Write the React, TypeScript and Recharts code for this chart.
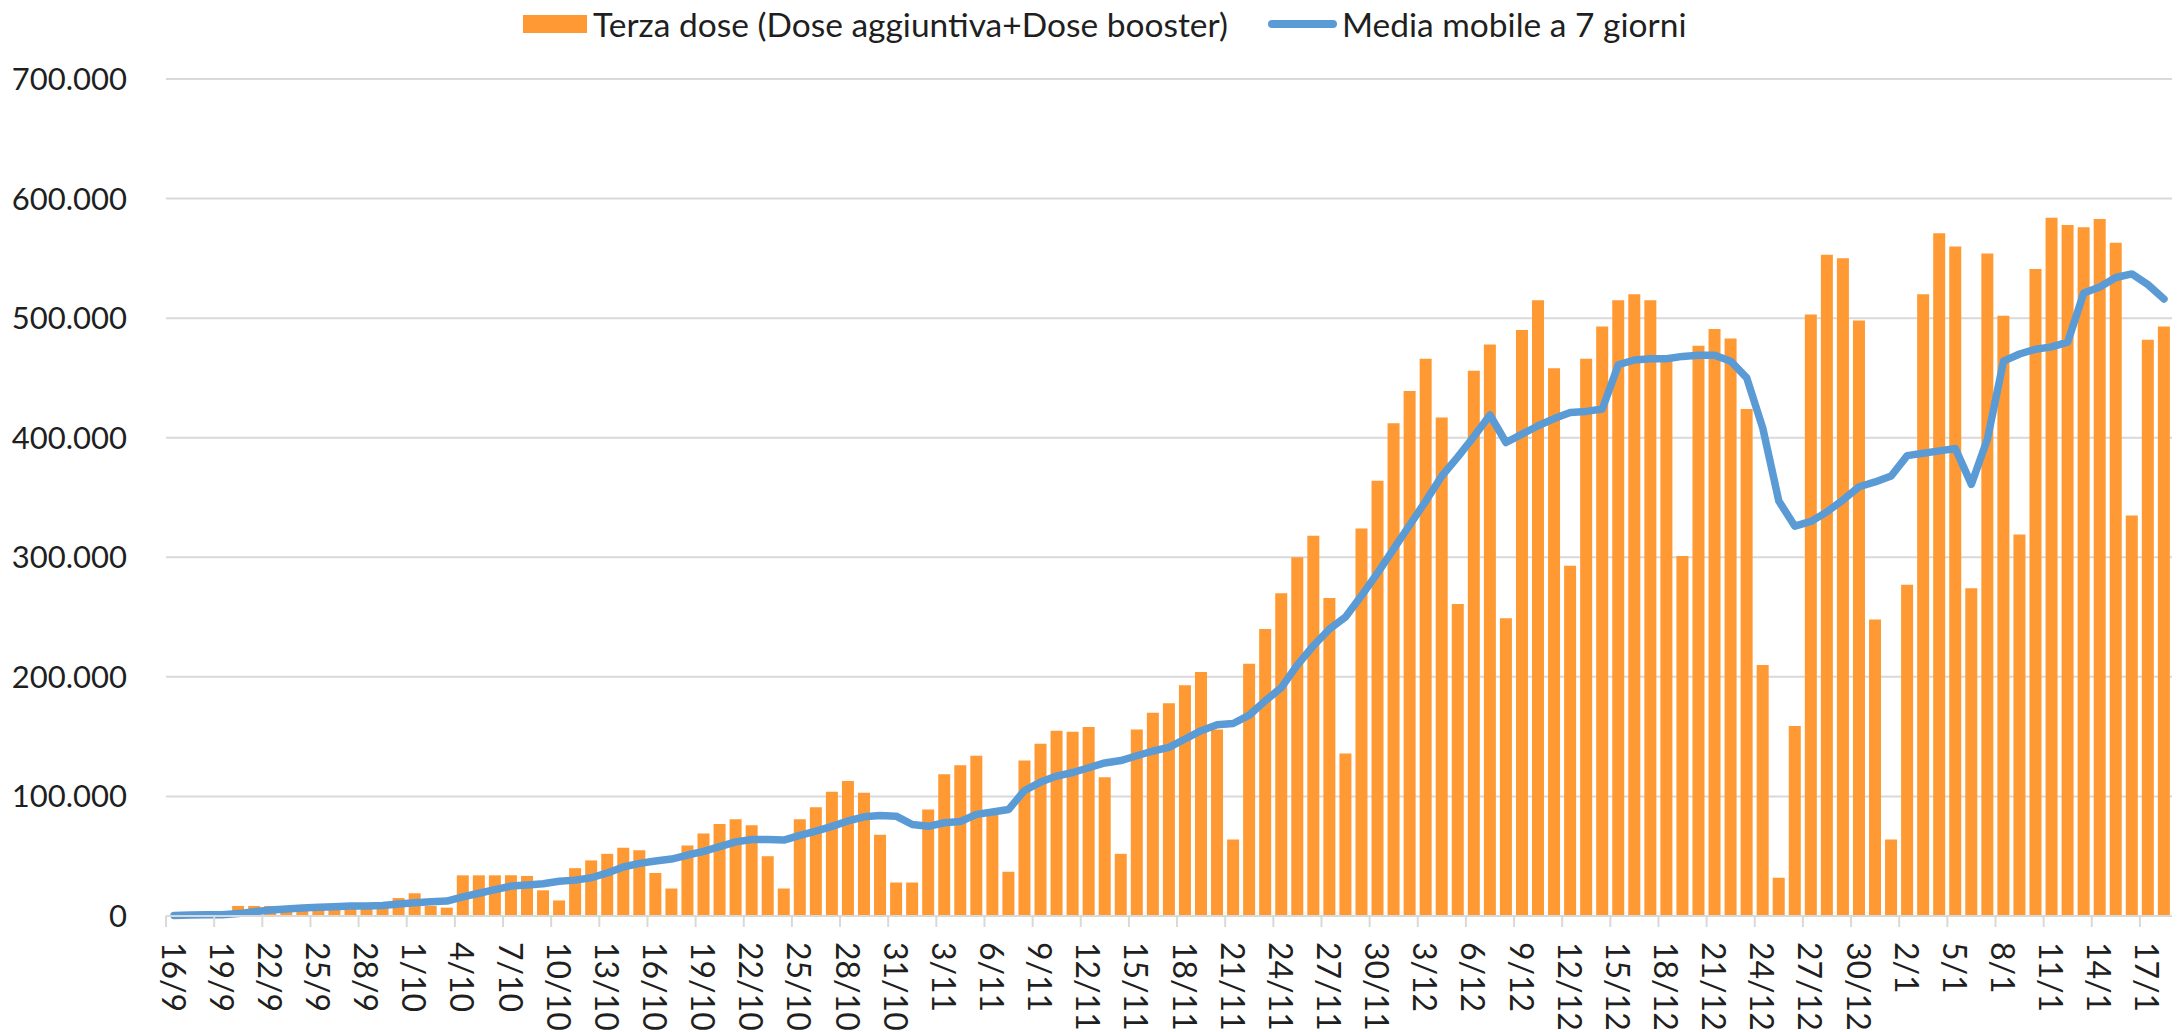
import { ComposedChart, Bar, Line, XAxis, YAxis, CartesianGrid } from "recharts";

const giorni = [
  "16/9", "17/9", "18/9", "19/9", "20/9", "21/9", "22/9", "23/9", "24/9", "25/9",
  "26/9", "27/9", "28/9", "29/9", "30/9", "1/10", "2/10", "3/10", "4/10", "5/10",
  "6/10", "7/10", "8/10", "9/10", "10/10", "11/10", "12/10", "13/10", "14/10", "15/10",
  "16/10", "17/10", "18/10", "19/10", "20/10", "21/10", "22/10", "23/10", "24/10", "25/10",
  "26/10", "27/10", "28/10", "29/10", "30/10", "31/10", "1/11", "2/11", "3/11", "4/11",
  "5/11", "6/11", "7/11", "8/11", "9/11", "10/11", "11/11", "12/11", "13/11", "14/11",
  "15/11", "16/11", "17/11", "18/11", "19/11", "20/11", "21/11", "22/11", "23/11", "24/11",
  "25/11", "26/11", "27/11", "28/11", "29/11", "30/11", "1/12", "2/12", "3/12", "4/12",
  "5/12", "6/12", "7/12", "8/12", "9/12", "10/12", "11/12", "12/12", "13/12", "14/12",
  "15/12", "16/12", "17/12", "18/12", "19/12", "20/12", "21/12", "22/12", "23/12", "24/12",
  "25/12", "26/12", "27/12", "28/12", "29/12", "30/12", "31/12", "1/1", "2/1", "3/1",
  "4/1", "5/1", "6/1", "7/1", "8/1", "9/1", "10/1", "11/1", "12/1", "13/1",
  "14/1", "15/1", "16/1", "17/1", "18/1",
];

// somministrazioni giornaliere terza dose
const terzaDose = [
  0, 0, 0, 0, 8400, 8400, 8400, 8000, 8000, 8000,
  8000, 8000, 8000, 8000, 15000, 19000, 8400, 7000, 34000, 34000,
  34000, 34000, 33500, 21500, 13000, 40000, 46500, 52000, 57000, 55000,
  36000, 23000, 59000, 69000, 77000, 81000, 76000, 50000, 23000, 81000,
  91000, 104000, 113000, 103000, 68000, 28000, 28000, 89000, 118500, 126000,
  134000, 89000, 37000, 130000, 144000, 155000, 154000, 158000, 116000, 52000,
  156000, 170000, 178000, 193000, 204000, 156000, 64000, 211000, 240000, 270000,
  300000, 318000, 266000, 136000, 324000, 364000, 412000, 439000, 466000, 417000,
  261000, 456000, 478000, 249000, 490000, 515000, 458000, 293000, 466000, 493000,
  515000, 520000, 515000, 466000, 301000, 477000, 491000, 483000, 424000, 210000,
  32000, 159000, 503000, 553000, 550000, 498000, 248000, 64000, 277000, 520000,
  571000, 560000, 274000, 554000, 502000, 319000, 541000, 584000, 578000, 576000,
  583000, 563000, 335000, 482000, 493000,
];

const mediaMobile = [
  500, 800, 1000, 1000, 2000, 3600, 5000, 5900, 6700, 7300,
  7800, 8400, 8400, 8700, 10000, 11000, 12000, 12500, 16000, 19000,
  22000, 25000, 26000, 27000, 29000, 30000, 32000, 36000, 41000, 44000,
  46000, 47600, 51000, 54000, 58000, 62000, 64000, 64000, 63500, 67500,
  71000, 75000, 79500, 83000, 84000, 83500, 76500, 75000, 78000, 79000,
  85000, 87000, 89000, 105000, 112000, 117000, 120000, 124000, 128000, 130000,
  134000, 138000, 141000, 148000, 155000, 160000, 161000, 168000, 180000, 191000,
  210000, 226000, 240000, 250000, 268000, 287000, 307000, 327000, 347000, 368000,
  384000, 401000, 419000, 396000, 403000, 410000, 416000, 421000, 422000, 424000,
  461000, 465000, 466000, 466000, 468000, 469000, 469000, 464000, 450000, 408000,
  347000, 326000, 330000, 338000, 348000, 359000, 363000, 368000, 385000, 387000,
  389000, 391000, 361000, 399000, 464000, 470000, 474000, 476000, 480000, 521000,
  526000, 534000, 537000, 528000, 516000,
];

const yTicks = [0, 100000, 200000, 300000, 400000, 500000, 600000, 700000];

const data = giorni.map((giorno, i) => ({
  giorno,
  dose: terzaDose[i],
  media: mediaMobile[i],
}));

const FONT = "Lato, 'Open Sans', sans-serif";
const TESTO = "#1f1f1f";
const ARANCIO = "#ff9933";
const BLU = "#5b9bd5";
const GRIGIO = "#d9d9d9";
const MEZZA_BANDA = 8; // metà larghezza di una categoria

function formatta(n: number) {
  return String(n).replace(/\B(?=(\d{3})+(?!\d))/g, ".");
}

function TickData({ x, y, payload }: any) {
  return (
    <g>
      <line x1={x - MEZZA_BANDA} x2={x - MEZZA_BANDA} y1={y - 8} y2={y + 3} stroke={GRIGIO} strokeWidth={2} />
      <text
        transform={`translate(${x},${y + 18}) rotate(90)`}
        textAnchor="start"
        dominantBaseline="central"
        fontFamily={FONT}
        fontSize={32}
        fill={TESTO}
      >
        {payload.value}
      </text>
    </g>
  );
}

const legendaTesto = {
  position: "absolute" as const,
  top: 4,
  fontFamily: FONT,
  fontSize: 33.5,
  color: TESTO,
  whiteSpace: "nowrap" as const,
  lineHeight: "40px",
};

export default function App() {
  return (
    <div style={{ position: "fixed", left: 0, top: 0, width: 2181, height: 1032, background: "#fff" }}>
      <div style={{ position: "absolute", left: 523, top: 15, width: 64, height: 18, background: ARANCIO }} />
      <div style={{ ...legendaTesto, left: 593 }}>Terza dose (Dose aggiuntiva+Dose booster)</div>
      <div style={{ position: "absolute", left: 1268, top: 20, width: 69, height: 8, borderRadius: 4, background: BLU }} />
      <div style={{ ...legendaTesto, left: 1342 }}>Media mobile a 7 giorni</div>

      <ComposedChart
        width={2181}
        height={1032}
        data={data}
        margin={{ top: 79, right: 9, bottom: 0, left: 0 }}
        barCategoryGap="12%"
      >
        <CartesianGrid vertical={false} stroke={GRIGIO} strokeWidth={2} />
        <XAxis
          dataKey="giorno"
          height={116}
          interval={2}
          tickLine={false}
          axisLine={{ stroke: GRIGIO, strokeWidth: 2 }}
          tick={<TickData />}
        />
        <YAxis
          width={166}
          domain={[0, 700000]}
          ticks={yTicks}
          axisLine={false}
          tickLine={false}
          tickSize={6}
          tickMargin={33}
          tickFormatter={formatta}
          tick={{ fontFamily: FONT, fontSize: 31, fill: TESTO }}
        />
        <Bar dataKey="dose" fill={ARANCIO} isAnimationActive={false} />
        <Line
          dataKey="media"
          type="linear"
          stroke={BLU}
          strokeWidth={7.5}
          strokeLinejoin="round"
          strokeLinecap="round"
          dot={false}
          isAnimationActive={false}
        />
      </ComposedChart>
    </div>
  );
}
